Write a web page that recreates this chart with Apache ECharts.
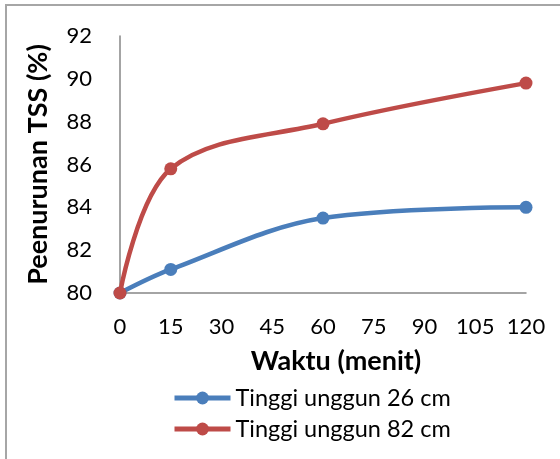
<!DOCTYPE html>
<html>
<head>
<meta charset="utf-8">
<script src="https://cdn.jsdelivr.net/npm/echarts@6/dist/echarts.min.js"></script>
<style>
html,body{margin:0;padding:0;background:#fff;}
#chart{width:560px;height:459px;}
</style>
</head>
<body>
<div id="chart"></div>
<script>
const times = [0, 15, 60, 120];
const series26 = [80, 81.1, 83.5, 84.0];
const series82 = [80, 85.8, 87.9, 89.8];
const seriesNames = ['Tinggi unggun 26 cm', 'Tinggi unggun 82 cm'];
const xTitle = 'Waktu (menit)';
const yTitle = 'Peenurunan TSS (%)';

const FONT = 'Lato, "Open Sans", sans-serif';
const chart = echarts.init(document.getElementById('chart'));
function pairs(vals){ return times.map((t,i)=>[t, vals[i]]); }

chart.setOption({
  animation: false,
  backgroundColor: '#fff',
  graphic: [{
    type: 'rect',
    shape: {x: 6, y: 5, width: 700, height: 600},
    style: {fill: 'none', stroke: '#a6a6a6', lineWidth: 2},
    silent: true
  }, {
    type: 'text',
    x: 336, y: 361,
    style: {text: xTitle, fontFamily: FONT, fontSize: 27, fontWeight: 'bold', fill: '#000',
            textAlign: 'center', textVerticalAlign: 'middle'},
    silent: true
  }],
  grid: {left: 120, right: 34, top: 36, bottom: 166},
  legend: {
    orient: 'vertical',
    left: 167, top: 381,
    itemWidth: 56, itemHeight: 16, itemGap: 7,
    lineStyle: {width: 5},
    textStyle: {fontFamily: FONT, fontSize: 23.5, color: '#000'},
    data: seriesNames
  },
  xAxis: {
    type: 'value', min: 0, max: 120, interval: 15,
    axisLine: {show: true, lineStyle: {color: '#868686', width: 1.5}},
    axisTick: {show: false},
    splitLine: {show: false},
    axisLabel: {fontFamily: FONT, fontSize: 22, color: '#000', margin: 23}
  },
  yAxis: {
    type: 'value', min: 80, max: 92, interval: 2,
    name: yTitle, nameLocation: 'middle', nameGap: 68,
    nameTextStyle: {fontFamily: FONT, fontSize: 27, fontWeight: 'bold', color: '#000'},
    axisLine: {show: true, lineStyle: {color: '#868686', width: 1.5}},
    axisTick: {show: false},
    splitLine: {show: false},
    axisLabel: {fontFamily: FONT, fontSize: 22, color: '#000', margin: 28}
  },
  series: [
    {
      name: seriesNames[0], type: 'line', smooth: 0.35,
      data: pairs(series26),
      symbol: 'circle', symbolSize: 13,
      lineStyle: {color: '#4A7EBB', width: 4.5},
      itemStyle: {color: '#4A7EBB'},
      z: 2
    },
    {
      name: seriesNames[1], type: 'line', smooth: 0.35,
      data: pairs(series82),
      symbol: 'circle', symbolSize: 13,
      lineStyle: {color: '#BE4B48', width: 4.5},
      itemStyle: {color: '#BE4B48'},
      z: 3
    }
  ]
});
</script>
</body>
</html>
